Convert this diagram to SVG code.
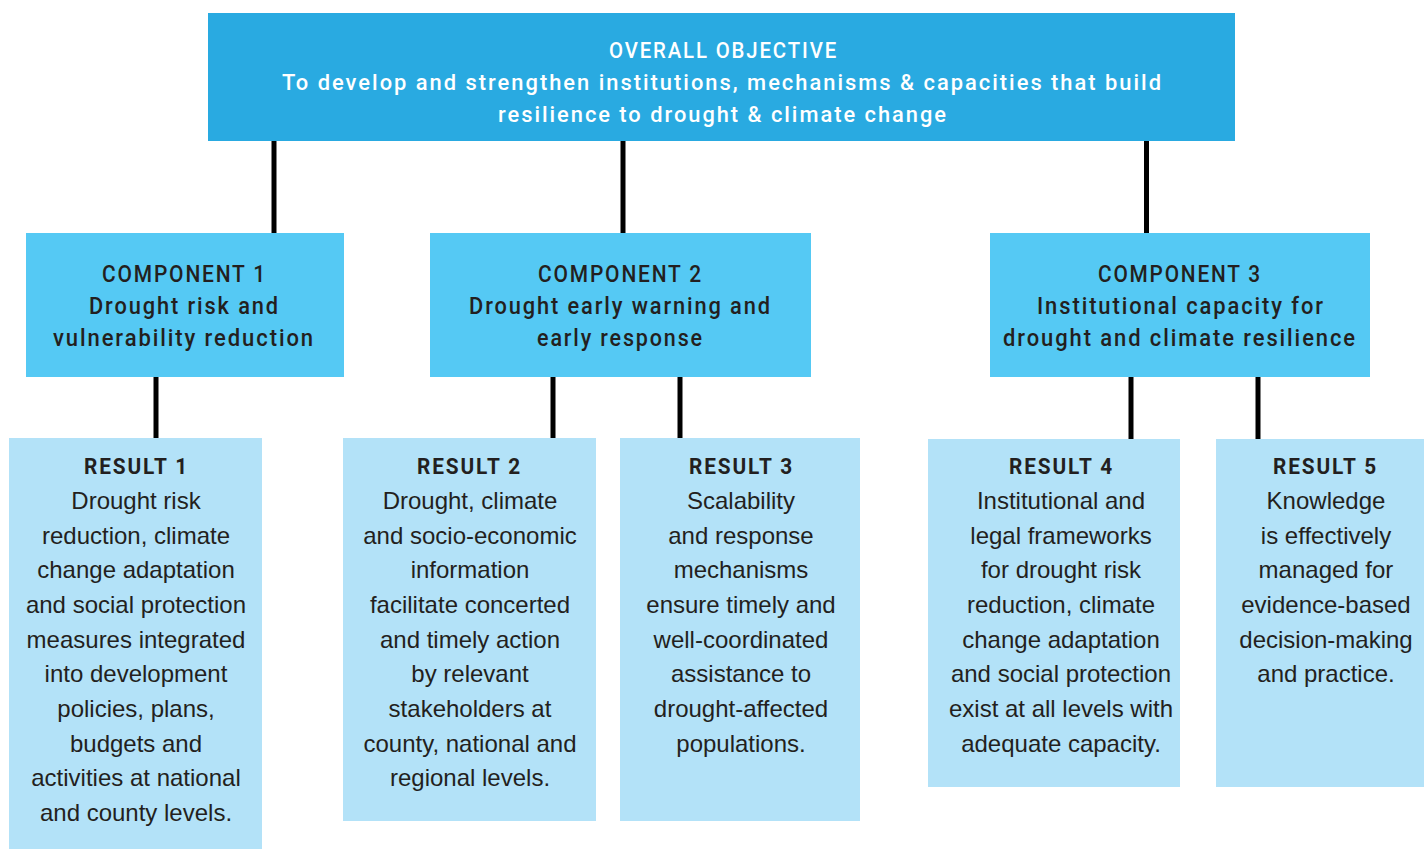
<svg xmlns="http://www.w3.org/2000/svg" width="1424" height="849" viewBox="0 0 1424 849">
<style>
.obj{fill:#29aae1}
.comp{fill:#55c9f4}
.res{fill:#b3e2f8}
.conn line{stroke:#000;stroke-width:5}
.tt{font-family:Roboto,"Liberation Sans",sans-serif;font-weight:500;font-size:22px;fill:#fff;letter-spacing:2px}
.ch{font-family:Roboto,"Liberation Sans",sans-serif;font-weight:500;font-size:23px;fill:#231f20;letter-spacing:2px}
.rh{font-family:Roboto,"Liberation Sans",sans-serif;font-weight:700;font-size:22px;fill:#231f20;letter-spacing:2px}
.rb{font-family:"Liberation Sans",Arial,sans-serif;font-size:24px;fill:#231f20;text-anchor:middle}
</style>
<rect width="1424" height="849" fill="#fff"/>
<g id="connectors" class="conn">
<line x1="274" y1="140" x2="274" y2="234"/>
<line x1="623" y1="140" x2="623" y2="234"/>
<line x1="1146.5" y1="140" x2="1146.5" y2="234"/>
<line x1="156" y1="376" x2="156" y2="439"/>
<line x1="553" y1="376" x2="553" y2="439"/>
<line x1="680" y1="376" x2="680" y2="439"/>
<line x1="1131" y1="376" x2="1131" y2="440"/>
<line x1="1258" y1="376" x2="1258" y2="440"/>
</g>
<g id="objective">
<rect class="obj" x="208" y="13" width="1027" height="128"/>
<text class="tt" x="609" y="58" textLength="229" lengthAdjust="spacingAndGlyphs">OVERALL OBJECTIVE</text>
<text class="tt" x="282" y="90" textLength="881" lengthAdjust="spacingAndGlyphs">To develop and strengthen institutions, mechanisms &amp; capacities that build</text>
<text class="tt" x="498" y="122" textLength="450" lengthAdjust="spacingAndGlyphs">resilience to drought &amp; climate change</text>
</g>
<g id="component1">
<rect class="comp" x="26" y="233" width="318" height="144"/>
<text class="ch" x="102" y="282" textLength="165" lengthAdjust="spacingAndGlyphs">COMPONENT 1</text>
<text class="ch" x="89" y="314" textLength="191" lengthAdjust="spacingAndGlyphs">Drought risk and</text>
<text class="ch" x="53" y="346" textLength="262" lengthAdjust="spacingAndGlyphs">vulnerability reduction</text>
</g>
<g id="component2">
<rect class="comp" x="430" y="233" width="381" height="144"/>
<text class="ch" x="538" y="282" textLength="165" lengthAdjust="spacingAndGlyphs">COMPONENT 2</text>
<text class="ch" x="469" y="314" textLength="303" lengthAdjust="spacingAndGlyphs">Drought early warning and</text>
<text class="ch" x="537" y="346" textLength="167" lengthAdjust="spacingAndGlyphs">early response</text>
</g>
<g id="component3">
<rect class="comp" x="990" y="233" width="380" height="144"/>
<text class="ch" x="1098" y="282" textLength="164" lengthAdjust="spacingAndGlyphs">COMPONENT 3</text>
<text class="ch" x="1037" y="314" textLength="288" lengthAdjust="spacingAndGlyphs">Institutional capacity for</text>
<text class="ch" x="1003" y="346" textLength="354" lengthAdjust="spacingAndGlyphs">drought and climate resilience</text>
</g>
<g id="result1">
<rect class="res" x="9" y="438" width="253" height="411"/>
<text class="rh" x="84" y="474" textLength="105" lengthAdjust="spacingAndGlyphs">RESULT 1</text>
<text class="rb" x="136" y="509">Drought risk</text>
<text class="rb" x="136" y="544">reduction, climate</text>
<text class="rb" x="136" y="578">change adaptation</text>
<text class="rb" x="136" y="613">and social protection</text>
<text class="rb" x="136" y="648">measures integrated</text>
<text class="rb" x="136" y="682">into development</text>
<text class="rb" x="136" y="717">policies, plans,</text>
<text class="rb" x="136" y="752">budgets and</text>
<text class="rb" x="136" y="786">activities at national</text>
<text class="rb" x="136" y="821">and county levels.</text>
</g>
<g id="result2">
<rect class="res" x="343" y="438" width="253" height="383"/>
<text class="rh" x="417" y="474" textLength="105" lengthAdjust="spacingAndGlyphs">RESULT 2</text>
<text class="rb" x="470" y="509">Drought, climate</text>
<text class="rb" x="470" y="544">and socio-economic</text>
<text class="rb" x="470" y="578">information</text>
<text class="rb" x="470" y="613">facilitate concerted</text>
<text class="rb" x="470" y="648">and timely action</text>
<text class="rb" x="470" y="682">by relevant</text>
<text class="rb" x="470" y="717">stakeholders at</text>
<text class="rb" x="470" y="752">county, national and</text>
<text class="rb" x="470" y="786">regional levels.</text>
</g>
<g id="result3">
<rect class="res" x="620" y="438" width="240" height="383"/>
<text class="rh" x="689" y="474" textLength="105" lengthAdjust="spacingAndGlyphs">RESULT 3</text>
<text class="rb" x="741" y="509">Scalability</text>
<text class="rb" x="741" y="544">and response</text>
<text class="rb" x="741" y="578">mechanisms</text>
<text class="rb" x="741" y="613">ensure timely and</text>
<text class="rb" x="741" y="648">well-coordinated</text>
<text class="rb" x="741" y="682">assistance to</text>
<text class="rb" x="741" y="717">drought-affected</text>
<text class="rb" x="741" y="752">populations.</text>
</g>
<g id="result4">
<rect class="res" x="928" y="439" width="252" height="348"/>
<text class="rh" x="1009" y="474" textLength="105" lengthAdjust="spacingAndGlyphs">RESULT 4</text>
<text class="rb" x="1061" y="509">Institutional and</text>
<text class="rb" x="1061" y="544">legal frameworks</text>
<text class="rb" x="1061" y="578">for drought risk</text>
<text class="rb" x="1061" y="613">reduction, climate</text>
<text class="rb" x="1061" y="648">change adaptation</text>
<text class="rb" x="1061" y="682">and social protection</text>
<text class="rb" x="1061" y="717">exist at all levels with</text>
<text class="rb" x="1061" y="752">adequate capacity.</text>
</g>
<g id="result5">
<rect class="res" x="1216" y="439" width="208" height="348"/>
<text class="rh" x="1273" y="474" textLength="105" lengthAdjust="spacingAndGlyphs">RESULT 5</text>
<text class="rb" x="1326" y="509">Knowledge</text>
<text class="rb" x="1326" y="544">is effectively</text>
<text class="rb" x="1326" y="578">managed for</text>
<text class="rb" x="1326" y="613">evidence-based</text>
<text class="rb" x="1326" y="648">decision-making</text>
<text class="rb" x="1326" y="682">and practice.</text>
</g>
</svg>
